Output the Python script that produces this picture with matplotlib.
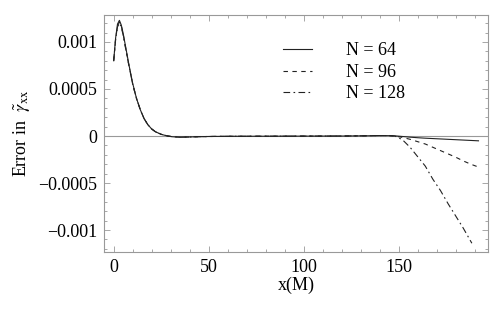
import matplotlib
matplotlib.use("Agg")
import matplotlib.pyplot as plt
from matplotlib.ticker import MultipleLocator, FixedLocator

plt.rcParams['font.family'] = ['Liberation Serif', 'DejaVu Serif']
plt.rcParams['mathtext.fontset'] = 'stix'
plt.rcParams['axes.unicode_minus'] = True

# x positions (M)
x = [0, 1, 2, 3, 4, 5, 6, 8, 10, 12, 14, 16, 18, 20, 22, 25, 28, 31, 35, 40, 45,
     50, 60, 80, 100, 120, 135, 140, 145, 148, 152, 156, 160, 164, 168, 172, 176,
     180, 184, 188, 192]
x_128 = [0, 1, 2, 3, 4, 5, 6, 8, 10, 12, 14, 16, 18, 20, 22, 25, 28, 31, 35, 40, 45,
         50, 60, 80, 100, 120, 135, 140, 145, 148, 152, 156, 160, 164, 168, 172, 176,
         180, 184, 188.5]

# errors (units of 1e-4)
err_64 = [8.0, 10.4, 11.9, 12.3, 11.8, 10.9, 9.8, 7.6, 5.6, 4.0, 2.8, 1.85, 1.2, 0.75,
          0.45, 0.18, 0.02, -0.08, -0.12, -0.10, -0.07, -0.05, -0.03, -0.02, -0.01,
          0.0, 0.03, 0.05, 0.04, 0.02, -0.05, -0.12, -0.18, -0.23, -0.27, -0.31,
          -0.35, -0.39, -0.43, -0.47, -0.51]
err_96 = [8.0, 10.3, 11.7, 12.1, 11.7, 10.8, 9.7, 7.5, 5.5, 4.0, 2.8, 1.85, 1.2, 0.75,
          0.45, 0.18, 0.02, -0.08, -0.12, -0.10, -0.07, -0.05, -0.03, -0.02, -0.01,
          0.0, 0.03, 0.05, 0.04, 0.0, -0.15, -0.35, -0.6, -0.85, -1.2, -1.55, -1.9,
          -2.25, -2.65, -3.0, -3.3]
err_128 = [8.0, 10.2, 11.6, 12.0, 11.6, 10.7, 9.6, 7.5, 5.5, 4.0, 2.8, 1.85, 1.2, 0.75,
           0.45, 0.18, 0.02, -0.08, -0.12, -0.10, -0.07, -0.05, -0.03, -0.02, -0.01,
           0.0, 0.03, 0.05, 0.04, 0.0, -0.4, -1.2, -2.2, -3.2, -4.6, -5.8, -7.2,
           -8.5, -9.8, -11.4]

labels = ["N = 64", "N = 96", "N = 128"]
xticks = [0, 50, 100, 150]
yticks = [-0.001, -0.0005, 0, 0.0005, 0.001]
ytick_labels = ["\u22120.001", "\u22120.0005", "0", "0.0005", "0.001"]

fig = plt.figure(figsize=(5.0, 3.09), dpi=100)
ax = fig.add_axes([0.208, 0.1854, 0.768, 0.7646])

scale = 1e-4
ax.axhline(0, color='#999999', lw=0.8, zorder=1)
ax.plot(x, [v * scale for v in err_64], color='#222222', lw=0.8, ls='-', label=labels[0])
ax.plot(x, [v * scale for v in err_96], color='#222222', lw=0.8, ls=(0, (4, 4)), label=labels[1])
ax.plot(x_128, [v * scale for v in err_128], color='#222222', lw=0.8, ls=(0, (6, 3, 1.5, 3)), label=labels[2])

ax.set_xlim(-5.1, 197)
ax.set_ylim(-0.00123, 0.001282)

ax.xaxis.set_major_locator(FixedLocator(xticks))
ax.xaxis.set_minor_locator(MultipleLocator(10))
ax.yaxis.set_major_locator(FixedLocator(yticks))
ax.yaxis.set_minor_locator(MultipleLocator(0.0001))
ax.set_xticklabels([str(t) for t in xticks])
ax.set_yticklabels(ytick_labels)

for s in ax.spines.values():
    s.set_color('#999999')
    s.set_linewidth(0.8)
ax.tick_params(which='both', direction='in', top=True, right=True, color='#999999',
               labelsize=13, width=0.6)
ax.tick_params(which='major', length=4, pad=5)
ax.tick_params(which='minor', length=2)

ax.set_xlabel("x(M)", fontsize=13, labelpad=1)
ax.set_ylabel("Error in  $\\tilde{\\gamma}_{\\mathrm{xx}}$", fontsize=13, labelpad=4)

leg = ax.legend(loc='upper left', bbox_to_anchor=(0.425, 0.955), frameon=False,
                fontsize=13, handlelength=1.6, handletextpad=1.85, labelspacing=0.25)

fig.savefig("out.png", dpi=100)
